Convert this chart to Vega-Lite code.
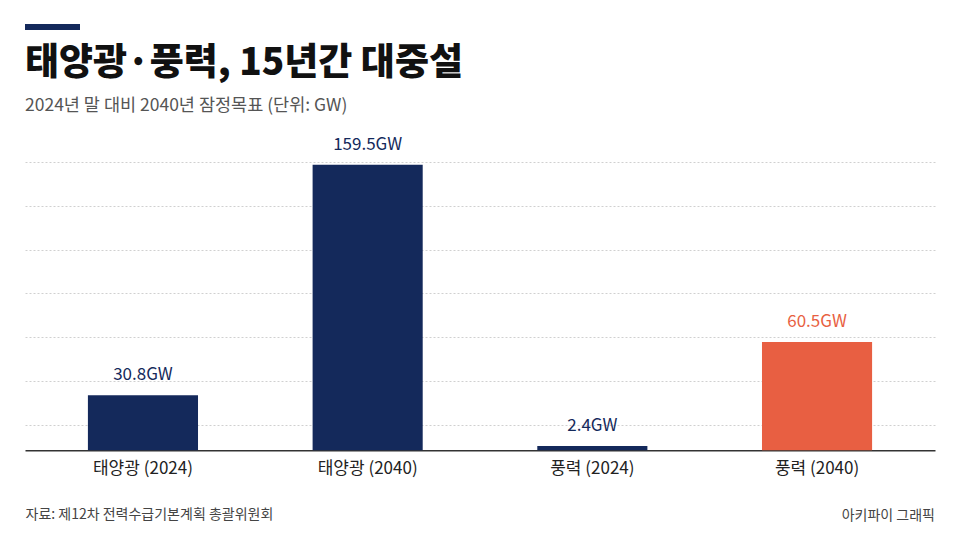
{
  "$schema": "https://vega.github.io/schema/vega-lite/v6.json",
  "background": "white",
  "padding": {"left": 25, "top": 24, "right": 25, "bottom": 0},
  "config": {"font": "Noto Sans CJK KR", "view": {"stroke": null}},
  "title": {"text": "아키파이 그래픽", "orient": "bottom", "anchor": "end", "fontSize": 14, "fontWeight": "normal", "color": "#444444", "offset": -12},
  "spacing": 15,
  "vconcat": [
    {
      "width": 55,
      "height": 6,
      "view": {"fill": "#14295b", "stroke": null},
      "data": {"values": [{}]},
      "mark": {"type": "point", "opacity": 0},
      "encoding": {}
    },
    {
      "width": 910,
      "height": 288.3,
      "title": {
        "text": "태양광·풍력, 15년간 대중설",
        "subtitle": "2024년 말 대비 2040년 잠정목표 (단위: GW)",
        "anchor": "start",
        "fontSize": 37,
        "fontWeight": 900,
        "color": "#111111",
        "subtitleFontSize": 17.5,
        "subtitleColor": "#555555",
        "subtitlePadding": 14,
        "offset": 20
      },
      "data": {
        "values": [
          {"항목": "태양광 (2024)", "용량": 30.8, "표시": "30.8GW", "구분": "기본"},
          {"항목": "태양광 (2040)", "용량": 159.5, "표시": "159.5GW", "구분": "기본"},
          {"항목": "풍력 (2024)", "용량": 2.4, "표시": "2.4GW", "구분": "기본"},
          {"항목": "풍력 (2040)", "용량": 60.5, "표시": "60.5GW", "구분": "강조"}
        ]
      },
      "encoding": {
        "x": {
          "field": "항목",
          "type": "nominal",
          "sort": null,
          "scale": {"paddingInner": 0.51, "paddingOuter": 0.28},
          "axis": {
            "title": "자료: 제12차 전력수급기본계획 총괄위원회",
            "titleAnchor": "start",
            "titleAlign": "left",
            "titleFontSize": 14,
            "titleFontWeight": "normal",
            "titleColor": "#444444",
            "titlePadding": 31,
            "labelAngle": 0,
            "labelFontSize": 17,
            "labelColor": "#222222",
            "labelPadding": 10,
            "ticks": false,
            "domainColor": "#333333",
            "domainWidth": 1.5
          }
        },
        "y": {
          "field": "용량",
          "type": "quantitative",
          "scale": {"domain": [0, 161.06], "nice": false},
          "axis": {
            "values": [14.25, 38.72, 63.18, 87.65, 112.12, 136.59, 161.06],
            "grid": true,
            "gridColor": "#d0d0d0",
            "gridDash": [2, 2],
            "gridWidth": 1,
            "labels": false,
            "ticks": false,
            "domain": false,
            "title": null
          }
        },
        "color": {
          "field": "구분",
          "type": "nominal",
          "scale": {"domain": ["기본", "강조"], "range": ["#14295b", "#e85f42"]},
          "legend": null
        }
      },
      "layer": [
        {"mark": {"type": "bar"}},
        {
          "mark": {"type": "text", "baseline": "bottom", "dy": -11, "fontSize": 17},
          "encoding": {"text": {"field": "표시"}}
        }
      ]
    }
  ]
}
